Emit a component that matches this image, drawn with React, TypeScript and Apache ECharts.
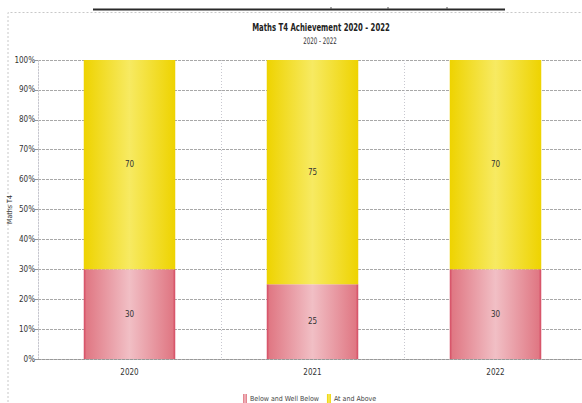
import React, { useEffect, useRef } from "react";
import * as echarts from "echarts";

// Academic years shown on the category axis
const years = ["2020", "2021", "2022"];
// Percentage of pupils in each band per year
const belowAndWellBelow = [30, 25, 30];
const atAndAbove = [70, 75, 70];
// Series names used in the legend
const seriesNames = ["Below and Well Below", "At and Above"];

const FONT = "'DejaVu Sans Condensed', 'Liberation Sans Narrow', 'Liberation Sans', sans-serif";

const pinkFill = new echarts.graphic.LinearGradient(0, 0, 1, 0, [
  { offset: 0, color: "#d54a62" },
  { offset: 0.03, color: "#e07884" },
  { offset: 0.5, color: "#f1bfc5" },
  { offset: 0.97, color: "#e07884" },
  { offset: 1, color: "#d54a62" },
]);

const yellowFill = new echarts.graphic.LinearGradient(0, 0, 1, 0, [
  { offset: 0, color: "#eed300" },
  { offset: 0.5, color: "#f7ea62" },
  { offset: 1, color: "#eed300" },
]);

export default function App() {
  const ref = useRef<HTMLDivElement>(null);

  useEffect(() => {
    if (!ref.current) return;
    const chart = echarts.init(ref.current, undefined, { renderer: "svg" });
    chart.setOption({
      animation: false,
      backgroundColor: "#ffffff",
      textStyle: { fontFamily: FONT },
      graphic: [
        // dotted frame around the chart
        {
          type: "polyline",
          shape: { points: [[8, 402], [8, 12.5], [600, 12.5]] },
          style: { stroke: "#c8c8c8", lineWidth: 1, lineDash: [2, 2], fill: null },
          silent: true,
        },
        // heavy rule along the top edge
        {
          type: "line",
          shape: { x1: 93, y1: 9.5, x2: 505, y2: 9.5 },
          style: { stroke: "#2a2a2a", lineWidth: 2 },
          silent: true,
        },
        ...[331, 388, 447].map((x) => ({
          type: "line",
          shape: { x1: x, y1: 7, x2: x, y2: 9 },
          style: { stroke: "#555", lineWidth: 1 },
          silent: true,
        })),
        {
          type: "text",
          x: 321,
          y: 27,
          scaleX: 0.7,
          style: {
            text: "Maths T4 Achievement 2020 - 2022",
            fontFamily: FONT,
            fontSize: 11,
            fontWeight: "bold",
            fill: "#222",
            align: "center",
            verticalAlign: "middle",
          },
        },
        {
          type: "text",
          x: 320,
          y: 41,
          scaleX: 0.68,
          style: {
            text: "2020 - 2022",
            fontFamily: FONT,
            fontSize: 9,
            fill: "#333",
            align: "center",
            verticalAlign: "middle",
          },
        },
      ],
      legend: {
        data: seriesNames,
        left: 238,
        top: 389,
        itemWidth: 4,
        itemHeight: 9,
        itemGap: 8,
        icon: "rect",
        textStyle: { fontSize: 7, color: "#444", fontFamily: FONT, padding: [0, 0, 0, -2] },
      },
      grid: { left: 38, top: 60, width: 549, height: 299, outerBoundsMode: "none", containLabel: false },
      xAxis: {
        type: "category",
        data: years,
        axisLine: { show: true, lineStyle: { color: "#999", type: [3, 1], width: 1 } },
        axisTick: { show: false },
        axisLabel: { fontSize: 8, color: "#333", margin: 9, fontFamily: FONT },
        splitLine: { show: true, lineStyle: { color: "#c8c8d0", type: [1, 2], width: 1 } },
      },
      yAxis: {
        type: "value",
        min: 0,
        max: 100,
        interval: 10,
        name: "Maths T4",
        nameLocation: "middle",
        nameRotate: 90,
        nameGap: 25,
        nameMoveOverlap: false,
        nameTextStyle: { fontSize: 7, color: "#333", fontFamily: FONT },
        axisLine: { show: true, lineStyle: { color: "#c8c8d0", type: [1, 2] } },
        axisTick: { show: true, length: 3, lineStyle: { color: "#999" } },
        axisLabel: { formatter: "{value}%", fontSize: 8, color: "#333", margin: 3, fontFamily: FONT },
        splitLine: { show: true, lineStyle: { color: "#a8a8a8", type: [3, 1], width: 1 } },
      },
      series: [
        {
          name: seriesNames[0],
          type: "bar",
          stack: "total",
          data: belowAndWellBelow,
          barWidth: "50%",
          itemStyle: { color: pinkFill },
          label: { show: true, position: "inside", fontSize: 8, color: "#333", fontFamily: FONT },
        },
        {
          name: seriesNames[1],
          type: "bar",
          stack: "total",
          data: atAndAbove,
          barWidth: "50%",
          itemStyle: { color: yellowFill },
          label: { show: true, position: "inside", fontSize: 8, color: "#333", fontFamily: FONT },
        },
      ],
      color: ["#d94f68", "#f0d800"],
    });
    return () => chart.dispose();
  }, []);

  return (
    <div style={{ position: "fixed", left: 0, top: 0, width: 582, height: 403, overflow: "hidden", background: "#fff" }}>
      <div ref={ref} style={{ width: 600, height: 403 }} />
    </div>
  );
}
